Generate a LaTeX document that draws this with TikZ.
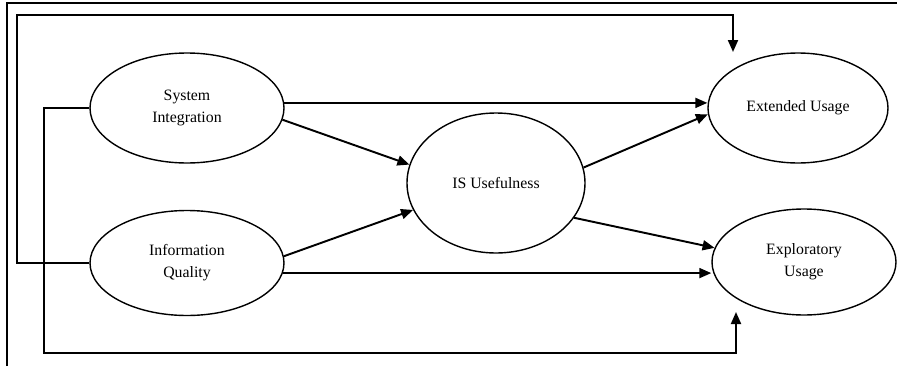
\documentclass[tikz,border=0pt]{standalone}
\usepackage{fontspec}
\setmainfont{Liberation Serif}
\usetikzlibrary{positioning,arrows.meta,shapes.geometric}

\begin{document}
\begin{tikzpicture}[
  construct/.style={ellipse,draw,line width=0.8pt,inner sep=0pt,align=center,
    font=\fontsize{9}{12.5}\selectfont},
  arr/.style={-{Triangle[length=2.4mm,width=2mm]},line width=1.1pt},
%  arr/.style={-{Stealth},line width=1pt},
  frame/.style={line width=1.7pt}
]

\useasboundingbox (0,0) rectangle (17.94,7.32);

% outer frame
\draw[frame] (0.14,0) |- (17.94,7.26);

% constructs
\node[construct,minimum width=3.88cm,minimum height=2.2cm] (SI) at (3.74,5.16) {System\\Integration};
\node[construct,minimum width=3.88cm,minimum height=2.1cm] (IQ) at (3.74,2.06) {Information\\Quality};
\node[construct,minimum width=3.56cm,minimum height=2.8cm] (ISU) at (9.92,3.66) {IS Usefulness};
\node[construct,minimum width=3.6cm,minimum height=2.2cm] (EU) at (15.96,5.16) {Extended Usage};
\node[construct,minimum width=3.68cm,minimum height=2.12cm] (EXP) at (16.08,2.08) {Exploratory\\Usage};

% direct paths
\draw[arr] (SI.3) -- (SI.3 -| EU.west);
\draw[arr] (IQ.-6) -- (IQ.-6 -| EXP.west);

% paths through IS usefulness
\draw[arr] (SI.-7) -- (ISU.168);
\draw[arr] (IQ.4) -- (ISU.198);
\draw[arr] (ISU.10) -- (EU.184);
\draw[arr] (ISU.-24) -- (EXP.171);

% outer loops
\coordinate (loopTL) at (0.34,7.02);
\coordinate (topTip) at (14.66,6.28);
\coordinate (loopBL) at (0.88,0.26);
\coordinate (botTip) at (14.72,1.08);

\draw[arr] (IQ.west) -| (loopTL) -| (topTip);
\draw[arr] (SI.west) -| (loopBL) -| (botTip);

\end{tikzpicture}
\end{document}
